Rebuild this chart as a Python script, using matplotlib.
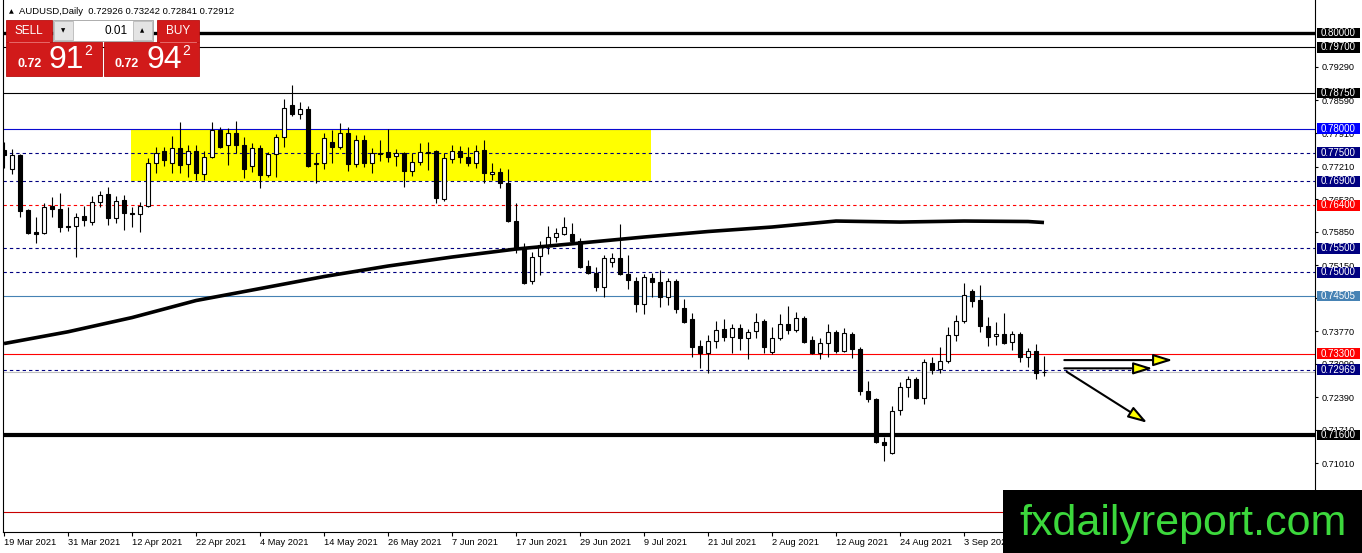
import matplotlib
matplotlib.use('Agg')
import matplotlib.pyplot as plt
from matplotlib.patches import Rectangle, FancyArrowPatch, ArrowStyle

plt.rcParams['font.family'] = ['Liberation Sans', 'DejaVu Sans']
plt.rcParams['lines.scale_dashes'] = False

# ---------------- data ----------------
symbol_header = "AUDUSD,Daily  0.72926 0.73242 0.72841 0.72912"

opens = [0.7756, 0.7716, 0.7745, 0.7630, 0.7584, 0.7582, 0.7638, 0.7632, 0.7597, 0.7597,
         0.7618, 0.7605, 0.7647, 0.7664, 0.7613, 0.7651, 0.7624, 0.7622, 0.7638, 0.7728,
         0.7753, 0.7728, 0.7760, 0.7726, 0.7753, 0.7705, 0.7741, 0.7797, 0.7766, 0.7791,
         0.7766, 0.7722, 0.7760, 0.7703, 0.7747, 0.7783, 0.7850, 0.7831, 0.7841, 0.7726,
         0.7728, 0.7772, 0.7762, 0.7791, 0.7726, 0.7776, 0.7728, 0.7749, 0.7751, 0.7743,
         0.7749, 0.7712, 0.7730, 0.7749, 0.7753, 0.7653, 0.7737, 0.7753, 0.7741, 0.7728,
         0.7756, 0.7705, 0.7710, 0.7687, 0.7607, 0.7551, 0.7482, 0.7534, 0.7555, 0.7574,
         0.7580, 0.7580, 0.7565, 0.7513, 0.7498, 0.7469, 0.7521, 0.7530, 0.7496, 0.7482,
         0.7434, 0.7488, 0.7480, 0.7448, 0.7482, 0.7425, 0.7402, 0.7346, 0.7331, 0.7356,
         0.7381, 0.7365, 0.7384, 0.7363, 0.7377, 0.7398, 0.7333, 0.7363, 0.7392, 0.7379,
         0.7404, 0.7358, 0.7331, 0.7352, 0.7375, 0.7335, 0.7371, 0.7340, 0.7252, 0.7235,
         0.7145, 0.7122, 0.7212, 0.7260, 0.7277, 0.7237, 0.7310, 0.7298, 0.7314, 0.7369,
         0.7398, 0.7461, 0.7442, 0.7388, 0.7367, 0.7371, 0.7354, 0.7371, 0.7323, 0.7335,
         0.72926]
highs = [0.7772, 0.7758, 0.7747, 0.7632, 0.7616, 0.7645, 0.7657, 0.7666, 0.7636, 0.7624,
         0.7638, 0.7659, 0.7670, 0.7678, 0.7659, 0.7662, 0.7636, 0.7647, 0.7739, 0.7762,
         0.7762, 0.7785, 0.7814, 0.7766, 0.7766, 0.7753, 0.7814, 0.7804, 0.7801, 0.7816,
         0.7783, 0.7770, 0.7766, 0.7751, 0.7789, 0.7862, 0.7891, 0.7856, 0.7847, 0.7749,
         0.7791, 0.7797, 0.7812, 0.7804, 0.7787, 0.7787, 0.7760, 0.7776, 0.7799, 0.7758,
         0.7751, 0.7749, 0.7770, 0.7772, 0.7755, 0.7749, 0.7766, 0.7764, 0.7762, 0.7766,
         0.7776, 0.7728, 0.7718, 0.7716, 0.7645, 0.7561, 0.7542, 0.7565, 0.7597, 0.7592,
         0.7616, 0.7603, 0.7572, 0.7526, 0.7511, 0.7536, 0.7540, 0.7601, 0.7536, 0.7490,
         0.7496, 0.7498, 0.7505, 0.7488, 0.7486, 0.7444, 0.7415, 0.7358, 0.7369, 0.7398,
         0.7402, 0.7392, 0.7392, 0.7381, 0.7415, 0.7402, 0.7386, 0.7413, 0.7430, 0.7417,
         0.7409, 0.7367, 0.7363, 0.7392, 0.7379, 0.7384, 0.7375, 0.7344, 0.7273, 0.7237,
         0.7156, 0.7220, 0.7271, 0.7283, 0.7281, 0.7319, 0.7323, 0.7344, 0.7386, 0.7411,
         0.7478, 0.7465, 0.7473, 0.7406, 0.7396, 0.7415, 0.7377, 0.7375, 0.7342, 0.7350,
         0.73242]
lows = [0.7718, 0.7705, 0.7616, 0.7580, 0.7561, 0.7580, 0.7616, 0.7584, 0.7586, 0.7532,
        0.7597, 0.7599, 0.7636, 0.7599, 0.7603, 0.7588, 0.7595, 0.7584, 0.7636, 0.7707,
        0.7722, 0.7707, 0.7707, 0.7699, 0.7693, 0.7693, 0.7739, 0.7760, 0.7724, 0.7749,
        0.7697, 0.7710, 0.7676, 0.7699, 0.7699, 0.7762, 0.7827, 0.7820, 0.7720, 0.7687,
        0.7716, 0.7728, 0.7758, 0.7712, 0.7720, 0.7720, 0.7707, 0.7732, 0.7730, 0.7722,
        0.7678, 0.7701, 0.7724, 0.7714, 0.7645, 0.7649, 0.7728, 0.7728, 0.7722, 0.7718,
        0.7687, 0.7693, 0.7676, 0.7605, 0.7540, 0.7476, 0.7475, 0.7494, 0.7538, 0.7563,
        0.7578, 0.7561, 0.7509, 0.7496, 0.7461, 0.7448, 0.7511, 0.7494, 0.7465, 0.7417,
        0.7413, 0.7448, 0.7427, 0.7432, 0.7415, 0.7394, 0.7323, 0.7300, 0.7289, 0.7342,
        0.7356, 0.7331, 0.7338, 0.7319, 0.7363, 0.7331, 0.7329, 0.7358, 0.7371, 0.7375,
        0.7352, 0.7330, 0.7319, 0.7323, 0.7331, 0.7333, 0.7321, 0.7244, 0.7229, 0.7143,
        0.7106, 0.7120, 0.7202, 0.7239, 0.7236, 0.7225, 0.7287, 0.7289, 0.7310, 0.7356,
        0.7394, 0.7427, 0.7375, 0.7346, 0.7348, 0.7350, 0.7338, 0.7312, 0.7302, 0.7277,
        0.72841]
closes = [0.7745, 0.7745, 0.7628, 0.7582, 0.7580, 0.7636, 0.7632, 0.7595, 0.7595, 0.7616,
          0.7609, 0.7647, 0.7662, 0.7613, 0.7649, 0.7624, 0.7622, 0.7638, 0.7728, 0.7749,
          0.7735, 0.7760, 0.7724, 0.7753, 0.7707, 0.7741, 0.7797, 0.7762, 0.7791, 0.7766,
          0.7716, 0.7760, 0.7703, 0.7747, 0.7783, 0.7843, 0.7831, 0.7841, 0.7722, 0.7728,
          0.7781, 0.7762, 0.7791, 0.7726, 0.7776, 0.7728, 0.7749, 0.7747, 0.7741, 0.7749,
          0.7712, 0.7730, 0.7751, 0.7751, 0.7655, 0.7739, 0.7753, 0.7741, 0.7728, 0.7753,
          0.7707, 0.7710, 0.7687, 0.7607, 0.7551, 0.7478, 0.7532, 0.7557, 0.7574, 0.7582,
          0.7595, 0.7565, 0.7511, 0.7498, 0.7469, 0.7530, 0.7530, 0.7496, 0.7484, 0.7434,
          0.7490, 0.7480, 0.7448, 0.7482, 0.7423, 0.7396, 0.7344, 0.7331, 0.7356, 0.7379,
          0.7365, 0.7384, 0.7363, 0.7375, 0.7396, 0.7344, 0.7363, 0.7392, 0.7379, 0.7404,
          0.7354, 0.7331, 0.7352, 0.7375, 0.7335, 0.7373, 0.7340, 0.7252, 0.7235, 0.7145,
          0.7139, 0.7210, 0.7260, 0.7277, 0.7237, 0.7312, 0.7296, 0.7314, 0.7369, 0.7398,
          0.7453, 0.7440, 0.7388, 0.7365, 0.7371, 0.7352, 0.7371, 0.7323, 0.7335, 0.7289,
          0.72912]

# 200-period moving average, read every 8 bars (plus last bar)
ma_bars = [0, 8, 16, 24, 32, 40, 48, 56, 64, 72, 80, 88, 96, 104, 112, 120, 128, 130]
ma_values = [0.73511, 0.73757, 0.74054, 0.74410, 0.74660, 0.74911, 0.75131, 0.75319,
             0.75486, 0.75611, 0.75737, 0.75852, 0.75946, 0.76071, 0.76050, 0.76071,
             0.76061, 0.76040]

date_labels = ['19 Mar 2021', '31 Mar 2021', '12 Apr 2021', '22 Apr 2021', '4 May 2021',
               '14 May 2021', '26 May 2021', '7 Jun 2021', '17 Jun 2021', '29 Jun 2021',
               '9 Jul 2021', '21 Jul 2021', '2 Aug 2021', '12 Aug 2021', '24 Aug 2021',
               '3 Sep 2021']

axis_ticks = [0.79290, 0.78590, 0.77910, 0.77210, 0.76530, 0.75850, 0.75150, 0.74470,
              0.73770, 0.73090, 0.72390, 0.71710, 0.71010]

levels = [0.80000, 0.79700, 0.78750, 0.78000, 0.77500, 0.76900, 0.76400, 0.75500,
          0.75000, 0.74505, 0.73300, 0.72969, 0.71600, 0.70000]
level_labels = ['0.80000', '0.79700', '0.78750', '0.78000', '0.77500', '0.76900', '0.76400',
                '0.75500', '0.75000', '0.74505', '0.73300', '0.72969', '0.71600', '']

zone_low, zone_high = 0.7690, 0.7800

arrow_targets = [(0.73166, 0.73166), (0.72993, 0.72993), (0.72922, 0.71856)]

# ---------------- styles ----------------
level_colors = ['black', 'black', 'black', '#0a0ad0', '#000080', '#000080', '#ff0000',
                '#000080', '#000080', '#4682b4', '#ff0000', '#000080', 'black', '#c80000']
level_dashed = [False, False, False, False, True, True, True, True, True, False, False,
                True, False, False]
level_widths = [2.4, 0.8, 0.8, 0.8, 0.8, 0.8, 0.8, 0.8, 0.8, 0.8, 0.8, 0.8, 3.0, 0.8]
box_colors = ['black', 'black', 'black', '#0000ff', '#000080', '#000080', '#ff0000',
              '#000080', '#000080', '#4682b4', '#ff0000', '#000080', 'black', None]

W, H = 1362, 553
fig = plt.figure(figsize=(W / 100, H / 100), dpi=100)
fig.patch.set_facecolor('white')

ax = fig.add_axes([3 / W, (H - 532) / H, 1312 / W, 532 / H])
ax.set_facecolor('white')

PX_BAR = 8.0
x_first = 4.0
ax.set_xlim((3 - x_first) / PX_BAR, (1315 - x_first) / PX_BAR)
price_per_px = 0.00020894
y_top = 0.8 + 33 * price_per_px
ax.set_ylim(y_top - 532 * price_per_px, y_top)

n = len(opens)
xs = list(range(n))

# zone rectangle (background)
ax.add_patch(Rectangle(((131 - x_first) / PX_BAR, zone_low), (651 - 131) / PX_BAR,
                       zone_high - zone_low, facecolor='#ffff00', edgecolor='none', zorder=0.5))

# horizontal levels
for lv, c, d, w in zip(levels, level_colors, level_dashed, level_widths):
    if d:
        ax.axhline(lv, color=c, lw=w, dashes=(2.4, 2.2), zorder=1)
    else:
        ax.axhline(lv, color=c, lw=w, zorder=1)

# bid line
ax.axhline(closes[-1], color='#c0c0c0', lw=0.8, zorder=1)

# candles
ax.vlines(xs, lows, highs, color='black', lw=0.8, zorder=3)
bottoms = [min(o, c) for o, c in zip(opens, closes)]
heights = [abs(c - o) for o, c in zip(opens, closes)]
faces = ['white' if c >= o else 'black' for o, c in zip(opens, closes)]
ax.bar(xs, heights, bottom=bottoms, width=0.6, color=faces, edgecolor='black',
       linewidth=0.8, zorder=4)

# moving average
ax.plot(ma_bars, ma_values, color='black', lw=2.6, solid_capstyle='butt', zorder=5)

# arrows
tail_x = [(1064.3 - x_first) / PX_BAR, (1064.3 - x_first) / PX_BAR, (1066.7 - x_first) / PX_BAR]
tip_x = [(1172.7 - x_first) / PX_BAR, (1152.7 - x_first) / PX_BAR, (1147.3 - x_first) / PX_BAR]
for (ya, yb), xa, xb in zip(arrow_targets, tail_x, tip_x):
    ar = FancyArrowPatch((xa, ya), (xb, yb),
                         arrowstyle=ArrowStyle('-|>', head_length=0.58, head_width=0.18),
                         mutation_scale=20, shrinkA=0, shrinkB=0,
                         facecolor='#ffff00', edgecolor='black', lw=1.5, zorder=6)
    ax.add_patch(ar)

# axes styling
for s in ['left', 'bottom', 'right']:
    ax.spines[s].set_color('black')
    ax.spines[s].set_linewidth(0.8)
ax.spines['top'].set_visible(False)

ax.yaxis.tick_right()
ax.set_yticks(axis_ticks)
ax.set_yticklabels(['%.5f' % v for v in axis_ticks])
ax.tick_params(axis='y', direction='out', length=2.5, width=0.8, pad=2.5,
               labelsize=6.6, colors='black')

ax.set_xticks([i * 8 for i in range(len(date_labels))])
ax.set_xticklabels(date_labels)
for lab in ax.get_xticklabels():
    lab.set_horizontalalignment('left')
ax.tick_params(axis='x', direction='out', length=3, width=0.8, pad=1.5, labelsize=6.7)

# price label boxes on the right axis
box_h = 10.5 * price_per_px
bx0 = (1317 - 3) / 1312
bw = 43 / 1312
ytr = ax.get_yaxis_transform()
for lv, lab, bc in zip(levels, level_labels, box_colors):
    if bc is None:
        continue
    ax.add_patch(Rectangle((bx0, lv - box_h / 2), bw, box_h, transform=ytr,
                           facecolor=bc, edgecolor='none', clip_on=False, zorder=10))
    ax.text(bx0 + bw / 2, lv, lab, transform=ytr, ha='center', va='center',
            color='white', fontsize=7, clip_on=False, zorder=11)

# ---------------- overlay: header, trade panel, watermark ----------------
ov = fig.add_axes([0, 0, 1, 1], zorder=20)
ov.set_xlim(0, W)
ov.set_ylim(H, 0)
ov.axis('off')
ov.patch.set_alpha(0)

ov.text(11.5, 11.5, '\u25B2', fontsize=4.5, family='DejaVu Sans', ha='center', va='center')
ov.text(19, 11.5, symbol_header, fontsize=6.8, ha='left', va='center', color='black')

red = '#d11a1a'
red_dark = '#b80f0f'
ov.add_patch(Rectangle((6, 20), 46, 22, facecolor=red, edgecolor=red_dark, lw=0.6))
ov.add_patch(Rectangle((6, 42), 96, 34, facecolor=red, edgecolor=red_dark, lw=0.6))
ov.add_patch(Rectangle((157, 20), 42, 22, facecolor=red, edgecolor=red_dark, lw=0.6))
ov.add_patch(Rectangle((104, 42), 95, 34, facecolor=red, edgecolor=red_dark, lw=0.6))
ov.plot([9, 49], [41.5, 41.5], color='#ee7777', lw=0.6)
ov.plot([160, 196], [41.5, 41.5], color='#ee7777', lw=0.6)
ov.add_patch(Rectangle((53, 20), 100, 21, facecolor='white', edgecolor='#a0a0a0', lw=0.6))
ov.add_patch(Rectangle((54, 21), 19, 19, facecolor='#e4e4e4', edgecolor='#b8b8b8', lw=0.6))
ov.add_patch(Rectangle((133, 21), 19, 19, facecolor='#e4e4e4', edgecolor='#b8b8b8', lw=0.6))
ov.text(63.5, 30.5, '\u25BC', fontsize=4, family='DejaVu Sans', ha='center', va='center')
ov.text(142.5, 30.5, '\u25B2', fontsize=4, family='DejaVu Sans', ha='center', va='center')
ov.text(128, 30.5, '0.01', fontsize=8.5, ha='right', va='center', color='black')
ov.text(28.5, 31, 'SELL', fontsize=8.5, ha='center', va='center', color='white')
ov.text(178, 31, 'BUY', fontsize=8.5, ha='center', va='center', color='white')

ov.text(30, 64, '0.72', fontsize=9, fontweight='bold', ha='center', va='center', color='white')
ov.text(48, 59.5, '91', fontsize=23, ha='left', va='center', color='white')
ov.text(88, 51, '2', fontsize=10, ha='center', va='center', color='white')
ov.text(127, 64, '0.72', fontsize=9, fontweight='bold', ha='center', va='center', color='white')
ov.text(146, 59.5, '94', fontsize=23, ha='left', va='center', color='white')
ov.text(186, 51, '2', fontsize=10, ha='center', va='center', color='white')

ov.add_patch(Rectangle((1003, 490), W - 1003, H - 490, facecolor='black', edgecolor='none'))
ov.text(1183, 535, 'fxdailyreport.com', fontsize=31, ha='center', va='baseline',
        color='#3cd83c')

fig.savefig('out.png', dpi=100)
